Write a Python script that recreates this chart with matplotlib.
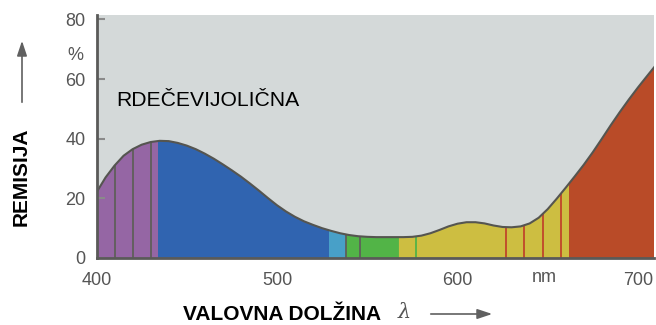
import numpy as np
import matplotlib.pyplot as plt
from matplotlib.patches import Polygon, FancyArrowPatch

plt.rcParams['font.family'] = ['Liberation Sans', 'DejaVu Sans']

# remission curve (%)
wavelength = [400, 405, 410, 415, 420, 425, 430, 435, 440, 445, 450, 455, 460, 465,
              470, 475, 480, 485, 490, 495, 500, 505, 510, 515, 520, 525, 530, 535,
              540, 545, 550, 555, 560, 565, 570, 575, 580, 585, 590, 595, 600, 605,
              610, 615, 620, 625, 630, 635, 640, 645, 650, 655, 660, 665, 670, 675,
              680, 685, 690, 695, 700, 705, 709]
remission = [22.0, 27.0, 31.0, 34.3, 36.5, 38.0, 38.9, 39.3, 39.2, 38.6, 37.7, 36.5, 35.0, 33.3,
             31.4, 29.4, 27.3, 25.0, 22.6, 20.1, 17.7, 15.6, 13.8, 12.3, 11.1, 10.0, 9.1, 8.3,
             7.7, 7.3, 7.1, 7.0, 7.0, 7.0, 7.0, 7.1, 7.5, 8.3, 9.4, 10.6, 11.5, 12.0,
             12.0, 11.6, 10.9, 10.4, 10.3, 10.6, 11.6, 13.5, 16.4, 19.9, 23.6, 27.4, 31.3, 35.5,
             40.0, 44.6, 49.0, 53.2, 57.2, 61.0, 64.0]

# spectral colour bands
band_edges = [400, 434, 529, 538, 567, 662, 709]
band_colors = ['#9566a4', '#3064b0', '#48a0c8', '#52b447', '#cdbe41', '#b94b28']

# thin separating lines inside the fill
gray_lines = [410, 420, 430, 538, 546]
green_lines = [567, 577]
red_lines = [627, 637, 647.5, 657.5]

fig = plt.figure(figsize=(6.56, 3.25), dpi=100)
ax = fig.add_axes([96.5 / 656, 67 / 325, 557.7 / 656, 243 / 325])
ax.set_facecolor('#d4d9d9')
ax.set_xlim(400, 709)
ax.set_ylim(0, 81.5)

verts = list(zip(wavelength, remission)) + [(709, 0), (400, 0)]
clip = Polygon(verts, closed=True, facecolor='none', edgecolor='none')
ax.add_patch(clip)

for i, c in enumerate(band_colors):
    span = ax.axvspan(band_edges[i], band_edges[i + 1], color=c, lw=0)
    span.set_clip_path(clip)

for xs, c in [(gray_lines, '#5f5f5a'), (green_lines, '#52b447'), (red_lines, '#c0462a')]:
    vl = ax.vlines(xs, 0, 80, colors=c, lw=1.3)
    vl.set_clip_path(clip)

ax.plot(wavelength, remission, color='#555550', lw=1.5)

for s in ['top', 'right']:
    ax.spines[s].set_visible(False)
for s in ['left', 'bottom']:
    ax.spines[s].set_color('#5a5a58')
    ax.spines[s].set_linewidth(2)

ax.set_yticks([0, 20, 40, 60, 80])
ax.set_xticks([400, 500, 600, 700])
ax.tick_params(axis='y', direction='in', length=6, width=1.5, color='#8a8a8a',
               labelsize=13, labelcolor='#555555', pad=8)
ax.tick_params(axis='x', length=0, labelsize=13, labelcolor='#555555', pad=10)

ax.text(648, -0.082, 'nm', transform=ax.get_xaxis_transform(), ha='center', va='center',
        fontsize=13, color='#555555')
fig.text(75 / 656, 1 - 55 / 325, '%', ha='center', va='center', fontsize=13, color='#555555')

ax.text(411, 52.7, 'RDEČEVIJOLIČNA', ha='left', va='center', fontsize=15.2, color='black')

fig.text(21 / 656, 1 - 177 / 325, 'REMISIJA', rotation=90, ha='center', va='center',
         fontsize=15, fontweight='bold', color='black')
fig.text(183 / 656, 1 - 314 / 325, 'VALOVNA DOLŽINA', ha='left', va='center',
         fontsize=15, fontweight='bold', color='black')
fig.text(404 / 656, 1 - 313 / 325, 'λ', ha='center', va='center', fontsize=15,
         style='italic', color='#555555', family=['DejaVu Serif'])

fig.add_artist(FancyArrowPatch(
    (22 / 656, 1 - 105 / 325), (22 / 656, 1 - 38 / 325), transform=fig.transFigure,
    arrowstyle='-|>,head_length=9,head_width=3', color='#606060', lw=1.2))
fig.add_artist(FancyArrowPatch(
    (428 / 656, 1 - 314 / 325), (495 / 656, 1 - 314 / 325), transform=fig.transFigure,
    arrowstyle='-|>,head_length=9,head_width=3', color='#606060', lw=1.2))

fig.savefig('out.png', dpi=100)
